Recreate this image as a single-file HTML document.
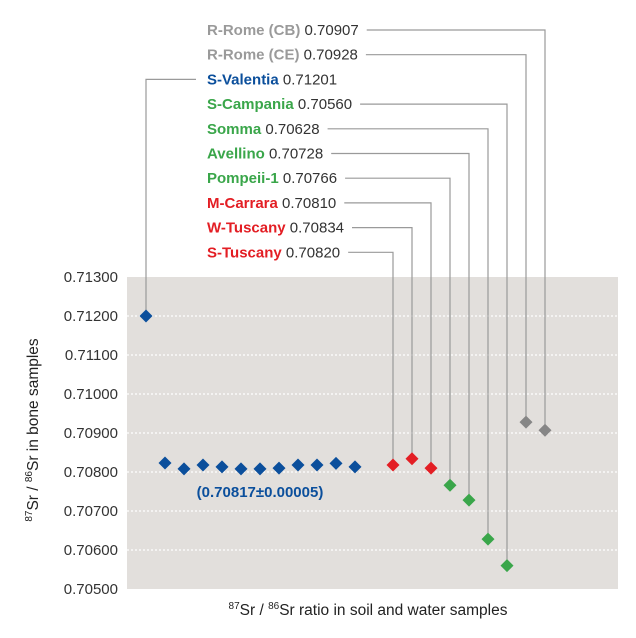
<!DOCTYPE html>
<html><head><meta charset="utf-8"><style>
html,body{margin:0;padding:0;background:#fff;}
svg{display:block;font-family:"Liberation Sans",sans-serif;}
</style></head><body>
<svg id="chart" width="636" height="638" viewBox="0 0 636 638">
<rect x="127" y="277" width="491" height="312" fill="#e2dfdc"/>
<g id="grid"></g><g id="yticks"></g><g id="leaders"></g><g id="marks"></g><g id="labels"></g>
<text x="260" y="497" fill="#0b4f9c" font-size="15" font-weight="bold" text-anchor="middle">(0.70817±0.00005)</text>
<text transform="translate(38,430) rotate(-90)" text-anchor="middle" font-size="15.5" fill="#222"><tspan font-size="10" dy="-6">87</tspan><tspan dy="6">Sr / </tspan><tspan font-size="10" dy="-6">86</tspan><tspan dy="6">Sr in bone samples</tspan></text>
<text x="368" y="615" text-anchor="middle" font-size="15.5" fill="#222"><tspan font-size="10" dy="-6">87</tspan><tspan dy="6">Sr / </tspan><tspan font-size="10" dy="-6">86</tspan><tspan dy="6">Sr ratio in soil and water samples</tspan></text>
</svg>
<script>
const yTicks=[0.713,0.712,0.711,0.710,0.709,0.708,0.707,0.706,0.705];
const tickLabels=["0.71300","0.71200","0.71100","0.71000","0.70900","0.70800","0.70700","0.70600","0.70500"];
const sampleIndex=[0,1,2,3,4,5,6,7,8,9,10,11,13,14,15,16,17,18,19,20,21];
const sampleValues=[0.71200,0.70823,0.70808,0.70818,0.70813,0.70808,0.70808,0.70810,0.70818,0.70818,0.70822,0.70813,0.70818,0.70834,0.70810,0.70766,0.70728,0.70628,0.70560,0.70928,0.70907];
const sampleGroup=["blue","blue","blue","blue","blue","blue","blue","blue","blue","blue","blue","blue","red","red","red","green","green","green","green","gray","gray"];
const labelNames=["R-Rome (CB)","R-Rome (CE)","S-Valentia","S-Campania","Somma","Avellino","Pompeii-1","M-Carrara","W-Tuscany","S-Tuscany"];
const labelValues=["0.70907","0.70928","0.71201","0.70560","0.70628","0.70728","0.70766","0.70810","0.70834","0.70820"];
const labelGroup=["grayt","grayt","blue","green","green","green","green","red","red","red"];
const labelTarget=[20,19,0,18,17,16,15,14,13,12];
const colors={blue:"#0b4f9c",red:"#e31e24",green:"#3aa64a",gray:"#868686",grayt:"#9a9a9a"};
const NS="http://www.w3.org/2000/svg";
const y=v=>277+(0.713-v)/0.008*312;
const x=i=>146+19*i;
function mk(t,a,p){const e=document.createElementNS(NS,t);for(const k in a)e.setAttribute(k,a[k]);p.appendChild(e);return e;}
const grid=document.getElementById('grid'),yt=document.getElementById('yticks');
yTicks.forEach((v,i)=>{
  if(i>0&&i<yTicks.length-1){const l=mk('line',{x1:127,x2:618,y1:y(v),y2:y(v),stroke:"#fff","stroke-width":1.3,"stroke-dasharray":"2 2"},grid);
  
  }
  const t=mk('text',{x:118,y:y(v)+5,"text-anchor":"end","font-size":"15",fill:"#333"},yt);t.textContent=tickLabels[i];
  
  
});
const marks=document.getElementById('marks');
sampleValues.forEach((v,i)=>{
  const cx=x(sampleIndex[i]),cy=y(v);
  const d=mk('path',{d:`M${cx} ${cy-6.5}L${cx+6.5} ${cy}L${cx} ${cy+6.5}L${cx-6.5} ${cy}Z`,fill:colors[sampleGroup[i]]},marks);
  
  
});
const labels=document.getElementById('labels'),leaders=document.getElementById('leaders');
labelNames.forEach((n,i)=>{
  const ly=30+24.7*i;
  const t=mk('text',{x:207,y:ly+5,"font-size":"15"},labels);
  
  
  const a=mk('tspan',{fill:colors[labelGroup[i]],"font-weight":"bold"},t);a.textContent=n;
  const b=mk('tspan',{fill:"#333"},t);b.textContent=" "+labelValues[i];
  const idx=labelTarget[i];const px=x(sampleIndex[idx]),py=y(sampleValues[idx]);
  let pts;
  if(px<207){pts=`196,${ly} ${px},${ly} ${px},${py-6}`;}
  else{const w=t.getComputedTextLength();pts=`${207+w+8},${ly} ${px},${ly} ${px},${py-6}`;}
  const l=mk('polyline',{points:pts,fill:"none",stroke:"#9a9a9a","stroke-width":1.2},leaders);
  
  
});
</script>
</body></html>
